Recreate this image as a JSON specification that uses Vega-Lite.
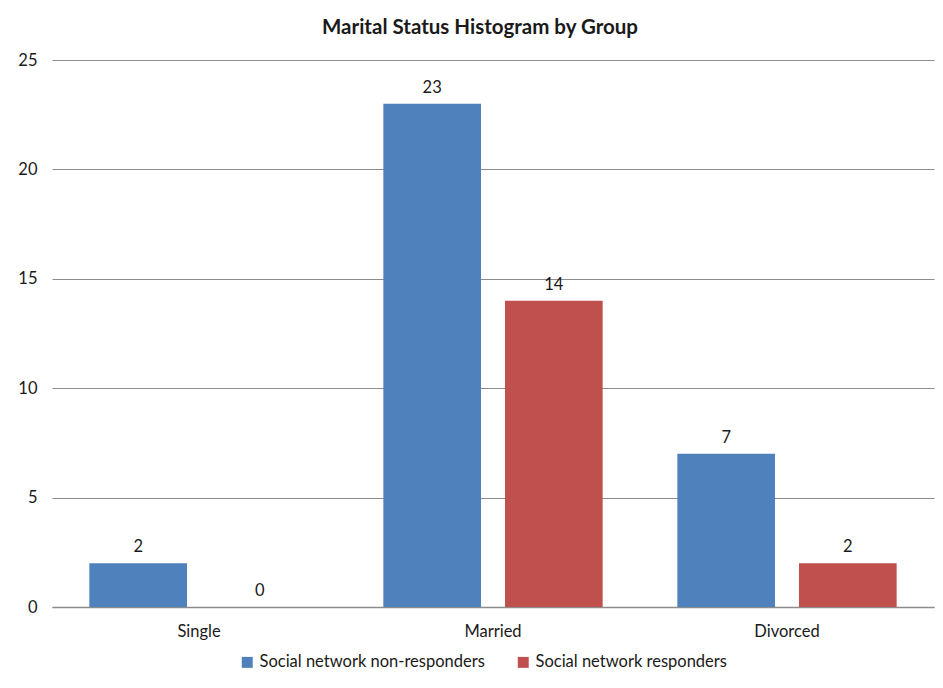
{
  "$schema": "https://vega.github.io/schema/vega-lite/v6.json",
  "autosize": "none",
  "width": 882,
  "height": 547,
  "padding": {"left": 52, "top": 60, "right": 9, "bottom": 81},
  "background": "white",
  "title": {"text": "Marital Status Histogram by Group", "fontSize": 20.5, "font": "Lato", "fontWeight": "bold", "color": "#1a1a1a", "offset": 14, "dx": -13},
  "data": {"values": [
    {"status": "Single", "group": "Social network non-responders", "count": 2},
    {"status": "Single", "group": "Social network responders", "count": 0},
    {"status": "Married", "group": "Social network non-responders", "count": 23},
    {"status": "Married", "group": "Social network responders", "count": 14},
    {"status": "Divorced", "group": "Social network non-responders", "count": 7},
    {"status": "Divorced", "group": "Social network responders", "count": 2}
  ]},
  "encoding": {
    "x": {"field": "status", "type": "nominal", "sort": ["Single", "Married", "Divorced"],
      "scale": {"paddingInner": 0.254, "paddingOuter": 0.127},
      "axis": {"title": null, "labelAngle": 0, "ticks": false, "domainColor": "#8c8c8c", "domainWidth": 1.5, "labelFontSize": 16.5, "labelFont": "Lato", "labelColor": "#1a1a1a", "labelPadding": 16}},
    "xOffset": {"field": "group", "type": "nominal", "scale": {"paddingInner": 0.197, "paddingOuter": 0}},
    "y": {"field": "count", "type": "quantitative", "scale": {"domain": [0, 25]},
      "axis": {"title": null, "values": [0, 5, 10, 15, 20, 25], "domain": false, "ticks": false, "gridColor": "#8c8c8c", "gridWidth": 1.2, "labelFontSize": 16.5, "labelFont": "Lato", "labelColor": "#1a1a1a", "labelPadding": 15}}
  },
  "layer": [
    {"mark": {"type": "bar"},
     "encoding": {"color": {"field": "group", "type": "nominal",
        "scale": {"domain": ["Social network non-responders", "Social network responders"], "range": ["#4F81BD", "#C0504D"]},
        "legend": {"title": null, "orient": "none", "legendX": 187, "legendY": 594, "direction": "horizontal", "symbolType": "square", "symbolSize": 120, "symbolStrokeWidth": 0, "labelFontSize": 16.5, "labelFont": "Lato", "labelColor": "#1a1a1a", "labelLimit": 400, "columnPadding": 30, "symbolOffset": 0, "labelOffset": 4}}}},
    {"mark": {"type": "text", "dy": -16, "fontSize": 16.5, "font": "Lato", "color": "#1a1a1a"},
     "encoding": {"text": {"field": "count", "type": "quantitative"}}}
  ],
  "config": {"view": {"stroke": null}}
}
